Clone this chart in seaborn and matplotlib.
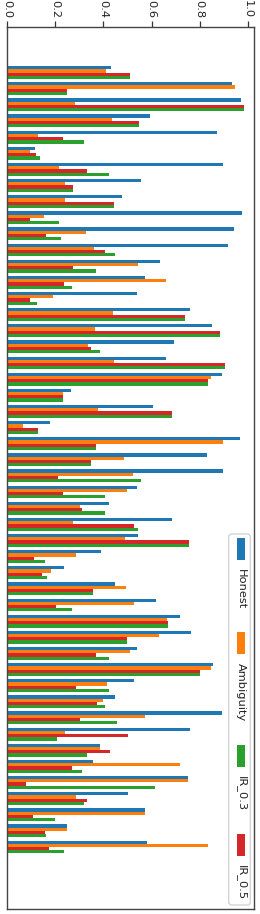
import matplotlib
matplotlib.use("Agg")
import matplotlib.pyplot as plt
import matplotlib.patches as mpatches
from matplotlib.transforms import IdentityTransform
import pandas as pd
import seaborn as sns

# values, one entry per question (top to bottom)
honest = [0.43, 0.933, 0.974, 0.592, 0.874, 0.117, 0.896, 0.554, 0.476, 0.978,
          0.944, 0.919, 0.636, 0.571, 0.538, 0.76, 0.853, 0.693, 0.658, 0.893,
          0.263, 0.604, 0.178, 0.968, 0.832, 0.899, 0.538, 0.425, 0.686, 0.543,
          0.388, 0.235, 0.446, 0.618, 0.719, 0.764, 0.538, 0.854, 0.526, 0.446,
          0.892, 0.761, 0.385, 0.358, 0.751, 0.5, 0.571, 0.249, 0.583]
ambiguity = [0.41, 0.947, 0.281, 0.436, 0.126, 0.096, 0.215, 0.242, 0.239, 0.154,
             0.326, 0.361, 0.543, 0.658, 0.188, 0.439, 0.365, 0.335, 0.443, 0.846,
             0.232, 0.378, 0.065, 0.896, 0.486, 0.522, 0.496, 0.303, 0.275, 0.489,
             0.286, 0.181, 0.493, 0.526, 0.664, 0.629, 0.51, 0.849, 0.415, 0.397,
             0.571, 0.242, 0.385, 0.717, 0.751, 0.286, 0.571, 0.249, 0.835]
ir_05 = [0.51, 0.249, 0.985, 0.547, 0.232, 0.119, 0.333, 0.272, 0.443, 0.093,
         0.161, 0.408, 0.275, 0.235, 0.096, 0.739, 0.885, 0.347, 0.907, 0.835,
         0.232, 0.685, 0.126, 0.367, 0.35, 0.211, 0.232, 0.3125, 0.526, 0.757,
         0.1125, 0.144, 0.356, 0.201, 0.669, 0.499, 0.368, 0.8, 0.286, 0.371,
         0.303, 0.5, 0.429, 0.269, 0.076, 0.333, 0.106, 0.157, 0.174]
ir_03 = [0.51, 0.249, 0.985, 0.547, 0.321, 0.1375, 0.425, 0.272, 0.443, 0.215,
         0.225, 0.449, 0.368, 0.269, 0.124, 0.739, 0.885, 0.3875, 0.907, 0.835,
         0.232, 0.685, 0.126, 0.367, 0.35, 0.554, 0.408, 0.408, 0.543, 0.757,
         0.157, 0.167, 0.356, 0.269, 0.669, 0.499, 0.422, 0.8, 0.425, 0.406,
         0.456, 0.206, 0.333, 0.31, 0.615, 0.317, 0.197, 0.161, 0.235]
questions = [f"Q{i + 1}" for i in range(len(honest))]
x_ticks = [0.0, 0.2, 0.4, 0.6, 0.8, 1.0]

colors = {"Honest": "#1f77b4", "Ambiguity": "#ff7f0e",
          "IR_0.3": "#2ca02c", "IR_0.5": "#d62728"}
bar_order = ["Honest", "Ambiguity", "IR_0.5", "IR_0.3"]
legend_order = ["Honest", "Ambiguity", "IR_0.3", "IR_0.5"]

df = pd.concat([
    pd.DataFrame({"question": questions, "score": honest, "method": "Honest"}),
    pd.DataFrame({"question": questions, "score": ambiguity, "method": "Ambiguity"}),
    pd.DataFrame({"question": questions, "score": ir_05, "method": "IR_0.5"}),
    pd.DataFrame({"question": questions, "score": ir_03, "method": "IR_0.3"}),
])

sns.set_style("white")
plt.rcParams["font.family"] = ["DejaVu Sans"]

W, H = 260, 914
fig = plt.figure(figsize=(W / 100, H / 100), dpi=100)
ax = fig.add_axes([7.3 / W, 4.7 / H, (254 - 7.3) / W, 882.6 / H])

sns.barplot(data=df, y="question", x="score", hue="method", order=questions,
            hue_order=bar_order, palette=colors, orient="h", saturation=1,
            linewidth=0, width=0.8, legend=False, ax=ax)

ax.set_xlim(0, 1.026)
ax.set_ylim(len(questions) - 1 + 3.86, -2.84)
ax.set_xlabel("")
ax.set_ylabel("")
ax.set_xticks(x_ticks)
ax.set_xticklabels([f"{t:.1f}" for t in x_ticks])
ax.xaxis.tick_top()
ax.tick_params(axis="x", top=True, bottom=False, labeltop=True, labelbottom=False,
               labelrotation=-90, length=4, width=0.9, pad=2.5, labelsize=8.2,
               color="#333333", labelcolor="#222222")
ax.tick_params(axis="y", left=False, labelleft=False)
for sp in ax.spines.values():
    sp.set_color("#444444")
    sp.set_linewidth(1.0)

# legend, drawn rotated like the rest of the figure (pixel layout)
def dy(y):
    return H - y

box = mpatches.FancyBboxPatch((228.7, dy(905)), 21.6, 371,
                              boxstyle="round,pad=0,rounding_size=3",
                              transform=IdentityTransform(), facecolor="white",
                              edgecolor="#d0d0d0", linewidth=0.9, zorder=5)
fig.add_artist(box)
renderer = fig.canvas.get_renderer()
y = 538
for name in legend_order:
    patch = mpatches.Rectangle((236.7, dy(y + 22)), 8.3, 22,
                               transform=IdentityTransform(),
                               facecolor=colors[name], edgecolor="none", zorder=6)
    fig.add_artist(patch)
    txt = fig.text(241, dy(y + 31), name, rotation=-90, ha="center", va="top",
                   fontsize=8.2, color="#222222", transform=IdentityTransform(),
                   zorder=6)
    h = txt.get_window_extent(renderer).height
    y = y + 31 + h + 23

fig.savefig("out.png", dpi=100)
